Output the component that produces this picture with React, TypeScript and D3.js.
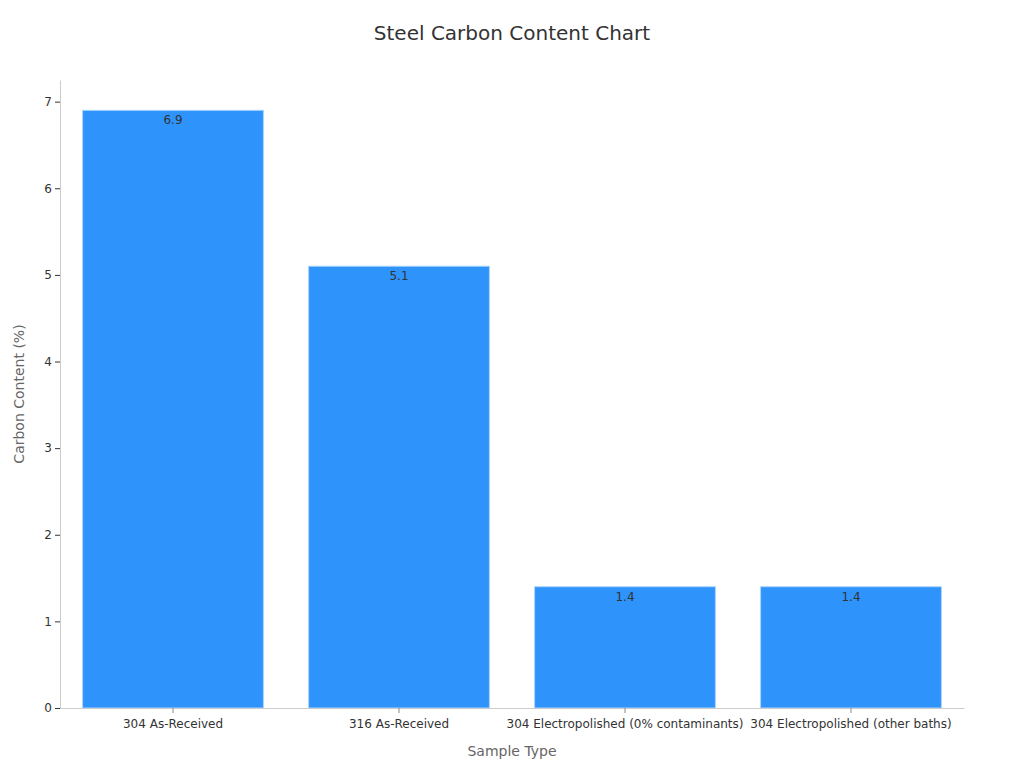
import { useEffect, useRef } from "react";
import * as d3 from "d3";

const categories = [
    "304 As-Received",
    "316 As-Received",
    "304 Electropolished (0% contaminants)",
    "304 Electropolished (other baths)",
];
const carbonValues = [6.9, 5.1, 1.4, 1.4];
const yTicks = [0, 1, 2, 3, 4, 5, 6, 7];

const App = () => {
    const svgRef = useRef<SVGSVGElement>(null);

    useEffect(() => {
        const svg = d3.select(svgRef.current);
        svg.selectAll("*").remove();

        const width = 1024;
        const height = 768;
        const margin = { top: 80, right: 60, bottom: 60, left: 60 };
        const font = "DejaVu Sans, sans-serif";

        svg.attr("width", width).attr("height", height).style("font-family", font);

        const x = d3
            .scaleBand()
            .domain(categories)
            .range([margin.left, width - margin.right])
            .paddingInner(0.2)
            .paddingOuter(0.1);

        const y = d3
            .scaleLinear()
            .domain([0, 7.25])
            .range([height - margin.bottom, margin.top]);

        // title
        svg.append("text")
            .attr("x", width / 2)
            .attr("y", 40)
            .attr("text-anchor", "middle")
            .attr("font-size", 20)
            .attr("fill", "#333")
            .text("Steel Carbon Content Chart");

        // bars
        const data = categories.map((c, i) => ({ name: c, value: carbonValues[i] }));

        svg.selectAll(".bar")
            .data(data)
            .enter()
            .append("rect")
            .attr("x", (d) => x(d.name)!)
            .attr("y", (d) => y(d.value))
            .attr("width", x.bandwidth())
            .attr("height", (d) => y(0) - y(d.value))
            .attr("fill", "#2e93fa")
            .attr("stroke", "#a9d4fd")
            .attr("stroke-width", 1);

        svg.selectAll(".label")
            .data(data)
            .enter()
            .append("text")
            .attr("x", (d) => x(d.name)! + x.bandwidth() / 2)
            .attr("y", (d) => y(d.value) + 14)
            .attr("text-anchor", "middle")
            .attr("font-size", 12)
            .attr("fill", "#333")
            .text((d) => d.value.toString());

        // y axis
        const yAxis = svg
            .append("g")
            .attr("transform", `translate(${margin.left},0)`)
            .call(d3.axisLeft(y).tickValues(yTicks).tickSize(5).tickSizeOuter(0));
        yAxis.select(".domain").attr("stroke", "#ccc");
        yAxis.selectAll(".tick line").attr("stroke", "#333");
        yAxis.selectAll(".tick text").attr("font-size", 12).attr("fill", "#333").attr("font-family", font);

        // x axis
        const xAxis = svg
            .append("g")
            .attr("transform", `translate(0,${height - margin.bottom})`)
            .call(d3.axisBottom(x).tickSize(5).tickSizeOuter(0).tickPadding(6));
        xAxis.select(".domain").attr("stroke", "#ccc");
        xAxis.selectAll(".tick line").attr("stroke", "#888");
        xAxis.selectAll(".tick text").attr("font-size", 12).attr("fill", "#333").attr("font-family", font);

        // axis titles
        svg.append("text")
            .attr("x", (margin.left + width - margin.right) / 2)
            .attr("y", 756)
            .attr("text-anchor", "middle")
            .attr("font-size", 14)
            .attr("fill", "#666")
            .text("Sample Type");

        svg.append("text")
            .attr("transform", `translate(24,${(margin.top + height - margin.bottom) / 2}) rotate(-90)`)
            .attr("text-anchor", "middle")
            .attr("font-size", 14)
            .attr("fill", "#666")
            .text("Carbon Content (%)");
    }, []);

    return <svg ref={svgRef} style={{ display: "block", margin: -8 }} />;
};

export default App;
